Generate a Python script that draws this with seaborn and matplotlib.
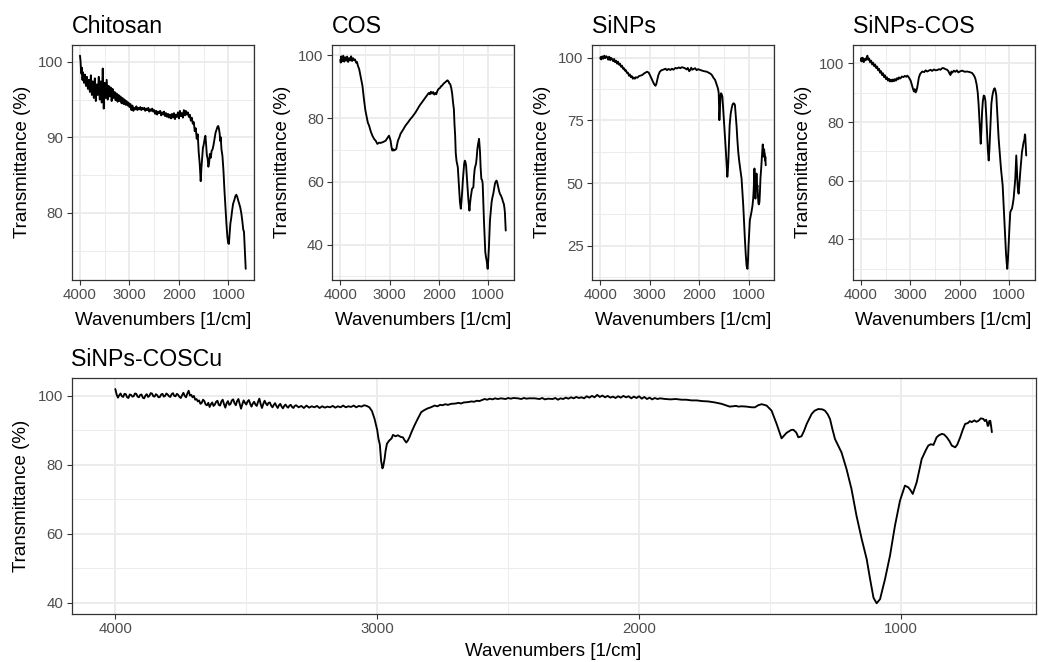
import matplotlib
matplotlib.use("Agg")
import matplotlib.pyplot as plt
from matplotlib.ticker import FixedLocator
import pandas as pd
import seaborn as sns

# ---------------- data (wavenumber [1/cm], transmittance [%]) ----------------
chitosan = [
    (4000, 100.8), (3990, 100.2), (3980, 99.0), (3970, 98.4), (3960, 99.2), (3950, 97.6),
    (3940, 98.6), (3920, 97.2), (3900, 98.3), (3880, 96.8), (3860, 98.0), (3840, 96.4),
    (3820, 97.6), (3800, 96.0), (3780, 98.2), (3760, 95.6), (3740, 97.4), (3720, 95.2),
    (3700, 97.8), (3680, 94.8), (3660, 97.0), (3640, 95.6), (3620, 98.0), (3600, 95.0),
    (3580, 97.4), (3560, 94.6), (3540, 99.1), (3520, 93.8), (3500, 97.2), (3480, 95.2),
    (3460, 97.6), (3440, 95.0), (3420, 96.8), (3400, 95.4), (3380, 96.6), (3360, 94.8),
    (3340, 96.4), (3320, 95.2), (3300, 96.0), (3280, 94.9), (3260, 95.8), (3240, 94.7),
    (3220, 95.6), (3200, 94.8), (3180, 95.4), (3160, 94.5), (3140, 95.2), (3120, 94.4),
    (3100, 95.0), (3080, 94.3), (3060, 94.8), (3040, 94.2), (3020, 94.6), (3000, 94.0),
    (2980, 94.4), (2960, 93.6), (2940, 94.2), (2920, 93.5), (2900, 93.9), (2880, 93.7),
    (2860, 94.1), (2840, 93.6), (2820, 93.9), (2800, 93.7), (2780, 94.0), (2760, 93.6),
    (2740, 93.9), (2720, 93.7), (2700, 93.9), (2680, 93.5), (2660, 93.8), (2640, 93.6),
    (2620, 93.9), (2600, 93.4), (2580, 93.7), (2560, 93.5), (2540, 93.8), (2520, 93.4),
    (2500, 93.6), (2480, 93.1), (2460, 93.5), (2440, 93.0), (2420, 93.4), (2400, 93.2),
    (2380, 93.5), (2360, 92.9), (2340, 93.3), (2320, 93.0), (2300, 93.4), (2280, 92.8),
    (2260, 93.2), (2240, 92.7), (2220, 93.1), (2200, 92.6), (2180, 93.0), (2160, 92.5),
    (2140, 93.1), (2120, 92.6), (2100, 93.2), (2080, 92.4), (2060, 93.0), (2040, 92.7),
    (2020, 93.3), (2000, 92.5), (1980, 93.5), (1960, 92.8), (1940, 93.2), (1920, 92.6),
    (1900, 93.6), (1880, 92.9), (1860, 93.5), (1840, 93.0), (1820, 93.3), (1800, 92.7),
    (1780, 93.0), (1760, 92.2), (1740, 92.6), (1720, 91.8), (1700, 92.0), (1680, 90.8),
    (1660, 91.2), (1640, 89.8), (1620, 90.4), (1600, 88.0), (1580, 86.5), (1560, 84.2),
    (1545, 86.0), (1530, 87.4), (1515, 88.6), (1500, 89.0), (1480, 89.8), (1465, 90.2),
    (1450, 89.0), (1435, 87.6), (1420, 87.2), (1405, 86.1), (1390, 86.6), (1375, 87.8),
    (1355, 87.3), (1340, 88.2), (1320, 88.4), (1300, 89.0), (1280, 89.8), (1260, 90.6),
    (1240, 91.0), (1220, 91.4), (1205, 91.5), (1190, 91.1), (1175, 90.4), (1165, 89.5),
    (1155, 90.0), (1140, 88.4), (1120, 87.5), (1100, 85.6), (1080, 83.0), (1060, 80.8),
    (1040, 78.6), (1020, 76.8), (1005, 76.0), (990, 75.9), (975, 77.2), (960, 78.6),
    (945, 79.2), (925, 80.3), (905, 81.2), (880, 81.7), (860, 82.2), (840, 82.4),
    (820, 82.1), (800, 81.6), (785, 81.3), (760, 80.7), (740, 80.0), (720, 79.0),
    (700, 77.8), (685, 77.5), (670, 75.5), (660, 74.0), (650, 72.6),
]

cos = [
    (4000, 98.5), (3990, 97.6), (3980, 99.6), (3960, 98.0), (3940, 99.8), (3920, 97.9),
    (3900, 99.3), (3880, 98.2), (3860, 99.5), (3840, 97.8), (3820, 99.0), (3800, 98.3),
    (3780, 99.6), (3760, 98.1), (3740, 99.0), (3720, 98.4), (3700, 98.6), (3680, 97.6),
    (3660, 97.8), (3640, 96.5), (3617, 95.6), (3583, 92.9), (3550, 90.3), (3516, 85.6),
    (3490, 82.5), (3462, 80.3), (3440, 78.6), (3415, 77.7), (3380, 75.8), (3348, 74.5),
    (3310, 73.4), (3281, 72.9), (3247, 71.9), (3210, 72.3), (3180, 72.2), (3130, 72.5),
    (3079, 72.9), (3040, 73.8), (3011, 74.5), (2995, 73.8), (2978, 72.9), (2960, 71.0),
    (2944, 69.8), (2925, 70.2), (2911, 69.8), (2890, 70.0), (2863, 70.3), (2845, 71.8),
    (2830, 72.9), (2800, 74.0), (2776, 75.1), (2720, 76.5), (2675, 77.7), (2620, 78.8),
    (2574, 79.8), (2540, 80.4), (2507, 81.1), (2470, 81.9), (2440, 82.7), (2390, 84.0),
    (2339, 85.1), (2300, 86.0), (2272, 86.6), (2240, 87.2), (2204, 88.0), (2180, 87.6),
    (2160, 88.4), (2137, 87.8), (2115, 88.3), (2090, 87.5), (2070, 88.0), (2050, 87.6),
    (2030, 88.6), (2003, 89.3), (1975, 89.6), (1950, 90.2), (1935, 90.3), (1900, 91.0),
    (1868, 91.4), (1840, 91.8), (1821, 92.0), (1800, 91.6), (1785, 91.0), (1767, 90.8),
    (1745, 89.5), (1727, 87.7), (1710, 85.0), (1693, 82.9), (1680, 78.0), (1667, 74.5),
    (1655, 69.0), (1640, 66.6), (1625, 65.5), (1613, 64.5), (1600, 61.0), (1586, 57.7),
    (1570, 53.5), (1552, 51.4), (1540, 53.5), (1525, 56.6), (1510, 60.5), (1498, 62.9),
    (1485, 65.5), (1472, 66.6), (1460, 66.3), (1445, 65.1), (1430, 61.5), (1418, 58.7),
    (1400, 54.5), (1377, 50.8), (1365, 53.0), (1350, 55.1), (1335, 56.5), (1324, 57.7),
    (1297, 58.2), (1285, 61.5), (1270, 64.0), (1255, 65.0), (1243, 65.6), (1230, 67.5),
    (1216, 70.3), (1200, 72.0), (1182, 73.5), (1172, 71.5), (1162, 69.3), (1150, 64.5),
    (1135, 60.8), (1120, 60.5), (1108, 59.3), (1095, 53.0), (1081, 47.2), (1068, 42.0),
    (1055, 37.7), (1040, 36.0), (1028, 35.1), (1015, 33.5), (1007, 32.4), (995, 35.0),
    (980, 39.8), (970, 44.0), (960, 47.7), (945, 50.5), (927, 53.5), (910, 55.0),
    (893, 56.1), (875, 57.8), (859, 59.3), (842, 60.0), (826, 60.3), (810, 59.5),
    (792, 58.2), (775, 57.0), (758, 56.1), (735, 55.5), (711, 54.5), (695, 53.6),
    (678, 52.9), (665, 51.5), (657, 50.3), (648, 47.0), (640, 44.5),
]

sinps = [
    (4000, 99.7), (3990, 100.3), (3980, 99.3), (3960, 100.5), (3940, 99.6), (3920, 100.8),
    (3900, 99.8), (3880, 100.6), (3860, 100.2), (3840, 99.2), (3820, 100.4), (3800, 99.0),
    (3780, 99.9), (3760, 99.4), (3740, 98.6), (3720, 99.5), (3700, 98.2), (3680, 98.8),
    (3660, 97.6), (3640, 98.4), (3620, 97.2), (3600, 97.6), (3580, 96.4), (3560, 96.8),
    (3540, 95.6), (3520, 95.8), (3500, 94.8), (3480, 95.0), (3460, 93.9), (3440, 94.0),
    (3420, 92.8), (3400, 93.3), (3380, 92.2), (3360, 92.6), (3340, 91.6), (3320, 92.1),
    (3300, 91.6), (3280, 92.2), (3250, 92.0), (3220, 92.6), (3190, 92.8), (3150, 93.1),
    (3120, 93.6), (3090, 94.0), (3049, 94.4), (3020, 94.0), (2996, 93.1), (2970, 92.0),
    (2949, 91.1), (2920, 89.8), (2900, 89.2), (2882, 88.8), (2865, 89.6), (2848, 91.1),
    (2825, 93.0), (2795, 94.4), (2760, 95.0), (2714, 95.3), (2680, 95.6), (2650, 95.0),
    (2620, 95.5), (2580, 95.1), (2550, 95.6), (2520, 95.2), (2480, 95.9), (2447, 95.7),
    (2410, 96.1), (2380, 95.8), (2350, 96.2), (2313, 96.0), (2280, 95.7), (2250, 95.3),
    (2230, 95.9), (2200, 94.6), (2179, 95.1), (2160, 96.0), (2140, 95.2), (2112, 95.5),
    (2080, 95.8), (2050, 95.0), (2020, 95.4), (1978, 95.1), (1950, 94.9), (1900, 94.6),
    (1844, 94.4), (1800, 93.9), (1770, 93.6), (1743, 93.1), (1710, 92.0), (1676, 91.1),
    (1650, 89.6), (1630, 88.4), (1615, 87.4), (1603, 85.8), (1596, 80.0), (1590, 75.1),
    (1584, 77.5), (1576, 81.1), (1566, 84.8), (1556, 85.8), (1545, 85.5), (1529, 84.4),
    (1512, 79.5), (1496, 74.4), (1478, 69.0), (1462, 63.8), (1445, 58.0), (1429, 52.5),
    (1420, 54.5), (1409, 58.5), (1395, 65.5), (1382, 73.1), (1362, 77.5), (1342, 79.8),
    (1325, 81.2), (1308, 81.8), (1290, 81.7), (1275, 81.1), (1260, 77.5), (1241, 72.4),
    (1225, 67.0), (1208, 62.4), (1190, 59.0), (1174, 56.5), (1160, 54.5), (1141, 51.8),
    (1125, 47.0), (1107, 41.1), (1090, 34.0), (1074, 27.8), (1057, 21.8), (1040, 17.2),
    (1030, 16.2), (1020, 15.8), (1010, 19.5), (1000, 25.2), (985, 31.0), (973, 35.2),
    (955, 37.0), (940, 38.5), (920, 41.0), (906, 43.8), (895, 47.5), (887, 52.0),
    (880, 55.8), (873, 51.0), (866, 45.5), (860, 43.8), (853, 47.0), (846, 50.5),
    (839, 53.8), (832, 51.0), (826, 48.5), (819, 49.1), (810, 45.0), (799, 41.8),
    (789, 41.5), (779, 42.5), (770, 46.0), (759, 51.8), (745, 55.5), (732, 59.8),
    (722, 62.8), (712, 65.4), (705, 63.0), (698, 60.8), (692, 60.5), (685, 63.5),
    (678, 62.0), (672, 61.8), (665, 59.0), (660, 60.5), (652, 57.1),
]

sinps_cos = [
    (4000, 100.9), (3990, 101.8), (3980, 100.6), (3960, 101.9), (3940, 100.4), (3920, 101.5),
    (3900, 101.0), (3880, 102.1), (3866, 102.6), (3850, 101.2), (3830, 101.6), (3810, 100.3),
    (3790, 100.9), (3770, 99.6), (3750, 100.2), (3730, 99.0), (3710, 99.6), (3690, 98.4),
    (3670, 98.9), (3650, 97.6), (3630, 98.1), (3610, 96.8), (3590, 97.3), (3570, 96.0),
    (3550, 96.6), (3530, 95.3), (3510, 95.9), (3490, 94.6), (3470, 95.2), (3450, 94.1),
    (3430, 94.7), (3410, 93.8), (3390, 94.4), (3370, 93.8), (3350, 94.5), (3330, 93.9),
    (3310, 94.6), (3290, 94.1), (3270, 94.9), (3250, 94.5), (3230, 95.2), (3210, 94.8),
    (3195, 94.9), (3170, 95.5), (3140, 95.3), (3110, 95.7), (3080, 95.4), (3060, 95.8),
    (3030, 95.2), (3010, 94.6), (2993, 94.1), (2970, 92.8), (2946, 91.3), (2925, 90.4),
    (2910, 91.2), (2893, 90.1), (2876, 90.6), (2859, 91.8), (2842, 93.5), (2826, 95.2),
    (2800, 96.4), (2758, 97.2), (2720, 97.0), (2690, 97.6), (2660, 97.2), (2624, 97.5),
    (2590, 97.8), (2560, 97.4), (2520, 97.9), (2490, 97.6), (2456, 97.7), (2420, 98.0),
    (2390, 97.8), (2350, 98.4), (2322, 98.3), (2290, 98.0), (2255, 97.8), (2230, 97.3),
    (2210, 96.6), (2188, 96.0), (2170, 97.2), (2150, 96.8), (2121, 97.5), (2090, 97.1),
    (2060, 97.6), (2030, 96.9), (1987, 97.3), (1950, 97.5), (1900, 97.1), (1852, 97.2),
    (1800, 97.0), (1752, 96.7), (1720, 96.0), (1700, 95.4), (1685, 94.7), (1660, 92.8),
    (1638, 90.1), (1620, 86.0), (1604, 81.1), (1590, 76.5), (1577, 72.6), (1564, 77.0),
    (1550, 83.3), (1535, 87.0), (1517, 89.0), (1500, 88.8), (1483, 87.3), (1465, 82.0),
    (1450, 76.5), (1433, 70.5), (1416, 66.9), (1402, 70.5), (1389, 75.4), (1375, 80.5),
    (1362, 86.2), (1345, 88.6), (1329, 90.1), (1310, 91.2), (1295, 91.5), (1280, 90.8),
    (1262, 89.0), (1240, 82.0), (1215, 74.3), (1190, 69.0), (1168, 64.1), (1150, 61.0),
    (1134, 58.4), (1118, 53.0), (1101, 47.1), (1085, 41.5), (1068, 35.7), (1055, 32.5),
    (1041, 30.0), (1028, 33.0), (1014, 38.0), (997, 44.0), (980, 49.3), (963, 50.0),
    (946, 50.5), (930, 52.0), (913, 53.9), (895, 57.5), (879, 60.7), (870, 64.5),
    (859, 68.6), (850, 65.0), (841, 61.0), (832, 58.4), (822, 56.5), (812, 55.6),
    (800, 58.0), (790, 60.5), (779, 62.9), (762, 66.5), (745, 69.7), (728, 71.5),
    (711, 73.1), (695, 74.0), (685, 75.8), (678, 75.4), (668, 72.0), (658, 68.6),
]

sinps_coscu = [
    (4000, 101.9), (3995, 100.3), (3990, 99.4), (3985, 100.1), (3980, 100.6), (3975, 99.8),
    (3970, 99.6), (3965, 100.5), (3960, 100.4), (3955, 99.5), (3950, 99.3), (3945, 100.3),
    (3940, 100.2), (3935, 99.7), (3930, 99.8), (3925, 100.6), (3920, 100.5), (3915, 99.7),
    (3910, 99.5), (3905, 100.2), (3900, 100.3), (3895, 99.4), (3890, 99.2), (3885, 100.0),
    (3880, 100.4), (3875, 99.6), (3870, 99.9), (3865, 100.7), (3860, 100.6), (3855, 99.8),
    (3850, 99.7), (3845, 100.4), (3840, 100.1), (3835, 99.5), (3830, 99.6), (3825, 100.3),
    (3820, 100.5), (3815, 99.7), (3810, 99.9), (3805, 100.6), (3800, 100.3), (3795, 99.8),
    (3790, 99.6), (3785, 100.4), (3780, 100.7), (3775, 99.9), (3770, 99.8), (3765, 100.5),
    (3760, 100.2), (3755, 99.6), (3750, 99.3), (3745, 100.1), (3740, 100.8), (3735, 99.9),
    (3730, 99.5), (3725, 100.6), (3720, 101.4), (3715, 100.0), (3710, 100.2), (3705, 99.5),
    (3700, 99.9), (3695, 98.8), (3690, 99.0), (3685, 98.3), (3680, 98.6), (3675, 97.6),
    (3670, 97.9), (3665, 98.8), (3660, 98.4), (3655, 97.4), (3650, 97.2), (3645, 97.9),
    (3640, 96.7), (3635, 97.5), (3630, 98.0), (3625, 97.0), (3620, 97.4), (3615, 98.2),
    (3610, 98.5), (3605, 97.3), (3600, 97.1), (3595, 98.3), (3590, 98.8), (3585, 97.5),
    (3580, 96.5), (3575, 97.8), (3570, 98.4), (3565, 97.3), (3560, 97.6), (3555, 98.6),
    (3550, 98.9), (3545, 97.8), (3540, 97.2), (3535, 98.4), (3530, 99.0), (3525, 97.6),
    (3520, 96.2), (3515, 97.5), (3510, 98.6), (3505, 97.9), (3500, 97.4), (3495, 98.3),
    (3490, 98.7), (3485, 97.6), (3480, 96.8), (3475, 97.7), (3470, 98.2), (3465, 97.4),
    (3460, 97.0), (3455, 98.2), (3450, 99.1), (3445, 97.5), (3440, 96.4), (3435, 97.6),
    (3430, 98.5), (3425, 97.7), (3420, 97.2), (3415, 97.9), (3410, 98.0), (3405, 97.1),
    (3400, 96.6), (3395, 97.3), (3390, 97.8), (3385, 97.0), (3380, 96.4), (3375, 97.2),
    (3370, 97.6), (3365, 96.8), (3360, 96.3), (3355, 97.0), (3350, 97.4), (3345, 96.8),
    (3340, 96.5), (3335, 97.1), (3330, 97.3), (3325, 96.7), (3320, 96.4), (3315, 97.0),
    (3310, 97.2), (3300, 96.6), (3290, 97.0), (3280, 96.4), (3270, 97.1), (3260, 96.5),
    (3250, 96.9), (3240, 96.6), (3230, 97.0), (3220, 96.4), (3210, 96.9), (3200, 96.5),
    (3190, 96.8), (3180, 96.6), (3170, 97.0), (3160, 96.5), (3150, 96.9), (3140, 96.6),
    (3130, 97.1), (3120, 96.6), (3110, 96.9), (3100, 96.7), (3090, 97.1), (3080, 96.6),
    (3070, 97.0), (3060, 96.8), (3050, 97.2), (3040, 97.0), (3030, 96.6), (3020, 95.5),
    (3010, 93.2), (3000, 90.0), (2995, 87.4), (2990, 85.8), (2985, 81.0), (2980, 78.9),
    (2977, 79.5), (2972, 81.6), (2968, 84.0), (2963, 86.0), (2955, 86.9), (2945, 87.6),
    (2940, 88.6), (2930, 88.2), (2921, 88.5), (2910, 88.0), (2902, 87.9), (2895, 87.0),
    (2889, 86.4), (2883, 87.0), (2877, 87.9), (2868, 89.6), (2858, 91.3), (2845, 93.3),
    (2832, 95.2), (2820, 95.8), (2807, 96.3), (2795, 96.6), (2781, 97.1), (2770, 96.9),
    (2760, 97.3), (2750, 97.2), (2740, 97.5), (2730, 97.3), (2718, 97.6), (2700, 97.7),
    (2690, 97.9), (2680, 97.7), (2670, 98.0), (2654, 98.1), (2640, 98.3), (2630, 98.2),
    (2620, 98.5), (2610, 98.4), (2600, 98.7), (2590, 99.0), (2580, 98.8), (2570, 99.1),
    (2560, 98.9), (2550, 99.2), (2540, 99.0), (2527, 99.2), (2510, 99.0), (2500, 99.3),
    (2490, 99.1), (2480, 99.3), (2463, 99.2), (2450, 99.0), (2440, 99.3), (2430, 99.1),
    (2420, 99.2), (2399, 99.2), (2380, 99.0), (2370, 99.3), (2360, 98.9), (2348, 99.1),
    (2330, 99.0), (2320, 99.3), (2310, 98.8), (2300, 99.2), (2290, 99.0), (2280, 99.4),
    (2270, 99.1), (2260, 99.5), (2250, 99.2), (2240, 99.6), (2230, 99.3), (2220, 99.5),
    (2210, 99.2), (2200, 99.8), (2190, 99.4), (2180, 99.9), (2170, 99.5), (2160, 100.2),
    (2150, 99.6), (2140, 100.0), (2130, 99.5), (2120, 99.9), (2110, 99.4), (2100, 99.7),
    (2090, 99.3), (2080, 99.8), (2070, 99.4), (2060, 99.9), (2050, 99.5), (2040, 99.8),
    (2030, 99.2), (2020, 99.7), (2010, 99.3), (2000, 99.8), (1990, 99.1), (1980, 99.6),
    (1970, 99.0), (1960, 99.4), (1950, 98.9), (1940, 99.3), (1930, 99.0), (1920, 99.2),
    (1900, 99.0), (1880, 98.9), (1860, 99.0), (1838, 98.8), (1820, 98.8), (1800, 98.6),
    (1780, 98.6), (1760, 98.4), (1736, 98.3), (1710, 98.0), (1685, 97.6), (1670, 97.2),
    (1654, 96.8), (1640, 96.9), (1630, 97.0), (1620, 96.8), (1609, 96.9), (1590, 96.8),
    (1570, 96.6), (1558, 96.6), (1545, 97.2), (1532, 97.5), (1513, 97.1), (1494, 95.6),
    (1475, 91.8), (1456, 87.6), (1445, 88.5), (1437, 89.2), (1420, 90.0), (1411, 90.1),
    (1400, 89.3), (1392, 87.9), (1380, 88.2), (1370, 89.8), (1360, 91.8), (1341, 94.7),
    (1330, 95.6), (1316, 96.1), (1300, 96.0), (1290, 95.6), (1280, 94.6), (1271, 93.2),
    (1262, 90.3), (1252, 87.4), (1240, 85.5), (1227, 83.5), (1208, 78.7), (1189, 72.9),
    (1170, 65.2), (1150, 58.4), (1131, 52.6), (1118, 46.8), (1105, 41.4), (1093, 39.8),
    (1080, 41.0), (1061, 46.8), (1042, 53.6), (1023, 62.3), (1004, 69.5), (985, 73.9),
    (972, 73.4), (963, 72.5), (955, 71.5), (940, 74.9), (921, 81.6), (905, 84.2),
    (896, 85.5), (886, 85.9), (876, 85.7), (864, 87.9), (855, 88.5), (844, 88.9),
    (835, 88.7), (825, 87.9), (815, 86.8), (806, 85.5), (793, 85.0), (785, 85.8),
    (774, 87.9), (765, 89.9), (755, 91.8), (745, 92.0), (737, 92.6), (730, 92.3),
    (720, 92.8), (712, 92.4), (704, 92.7), (695, 93.4), (685, 93.2), (680, 92.6),
    (675, 93.0), (672, 92.3), (669, 91.2), (666, 91.3), (663, 92.6), (659, 92.7),
    (656, 91.2), (653, 89.4),
]

titles = ["Chitosan", "COS", "SiNPs", "SiNPs-COS", "SiNPs-COSCu"]
x_major = [4000, 3000, 2000, 1000]
x_minor = [3500, 2500, 1500, 500]
y_major = {
    "Chitosan": [80, 90, 100],
    "COS": [40, 60, 80, 100],
    "SiNPs": [25, 50, 75, 100],
    "SiNPs-COS": [40, 60, 80, 100],
    "SiNPs-COSCu": [40, 60, 80, 100],
}
y_minor = {
    "Chitosan": [75, 85, 95],
    "COS": [30, 50, 70, 90],
    "SiNPs": [12.5, 37.5, 62.5, 87.5],
    "SiNPs-COS": [30, 50, 70, 90],
    "SiNPs-COSCu": [50, 70, 90],
}
x_label = "Wavenumbers [1/cm]"
y_label = "Transmittance (%)"

# ---------------- style ----------------
sns.set_theme(style="white")
plt.rcParams["font.family"] = ["Liberation Sans", "DejaVu Sans"]

W, H = 1039, 662
fig = plt.figure(figsize=(W / 100, H / 100), dpi=100)
fig.patch.set_facecolor("white")

# panel boxes in pixels: left, right, top, bottom
boxes = {
    "Chitosan": (71.7, 254.0, 45.0, 279.5),
    "COS": (332.0, 514.0, 45.0, 279.5),
    "SiNPs": (592.0, 774.0, 45.0, 279.5),
    "SiNPs-COS": (852.5, 1034.5, 45.0, 279.5),
    "SiNPs-COSCu": (71.5, 1035.7, 378.3, 614.0),
}
series = {
    "Chitosan": chitosan,
    "COS": cos,
    "SiNPs": sinps,
    "SiNPs-COS": sinps_cos,
    "SiNPs-COSCu": sinps_coscu,
}

GRID = "#EBEBEB"
BORDER = "#333333"
TICKC = "#4D4D4D"

for name in titles:
    l, r, t, b = boxes[name]
    ax = fig.add_axes([l / W, 1 - b / H, (r - l) / W, (b - t) / H])
    df = pd.DataFrame(series[name], columns=["wn", "T"])
    sns.lineplot(data=df, x="wn", y="T", ax=ax, color="black", linewidth=1.35,
                 sort=False, estimator=None)
    xmin, xmax = df["wn"].min(), df["wn"].max()
    ymin, ymax = df["T"].min(), df["T"].max()
    dx, dy = 0.05 * (xmax - xmin), 0.05 * (ymax - ymin)
    ax.set_xlim(xmax + dx, xmin - dx)
    ax.set_ylim(ymin - dy, ymax + dy)

    ax.xaxis.set_major_locator(FixedLocator(x_major))
    ax.xaxis.set_minor_locator(FixedLocator(x_minor))
    ax.yaxis.set_major_locator(FixedLocator(y_major[name]))
    ax.yaxis.set_minor_locator(FixedLocator(y_minor[name]))
    ax.set_xticklabels([str(v) for v in x_major])
    ax.set_yticklabels([str(v) for v in y_major[name]])

    ax.grid(which="major", color=GRID, linewidth=1.3)
    ax.grid(which="minor", color=GRID, linewidth=0.65)
    ax.set_axisbelow(True)
    for s in ax.spines.values():
        s.set_color(BORDER)
        s.set_linewidth(0.9)
        s.set_visible(True)
    ax.tick_params(which="major", direction="out", length=3.4, width=0.8,
                   color=BORDER, labelcolor=TICKC, labelsize=10.8, pad=2.6,
                   bottom=True, left=True)
    ax.tick_params(which="minor", length=0, bottom=False, left=False)
    ax.set_xlabel("")
    ax.set_ylabel("")

    # panel title, axis titles
    fig.text(l / W, 1 - (t - 12.3) / H, name, ha="left", va="baseline",
             fontsize=16.7, color="black")
    xl_off = 42.5 if name == "SiNPs-COSCu" else 45.5
    fig.text((l + r) / 2 / W, 1 - (b + xl_off) / H,
             x_label, ha="center", va="baseline", fontsize=13.5, color="black")
    fig.text((l - 49.5) / W, 1 - (t + b) / 2 / H, y_label, rotation=90,
             ha="center", va="center", fontsize=13.5, color="black")

fig.savefig("out.png", dpi=100, facecolor="white")
